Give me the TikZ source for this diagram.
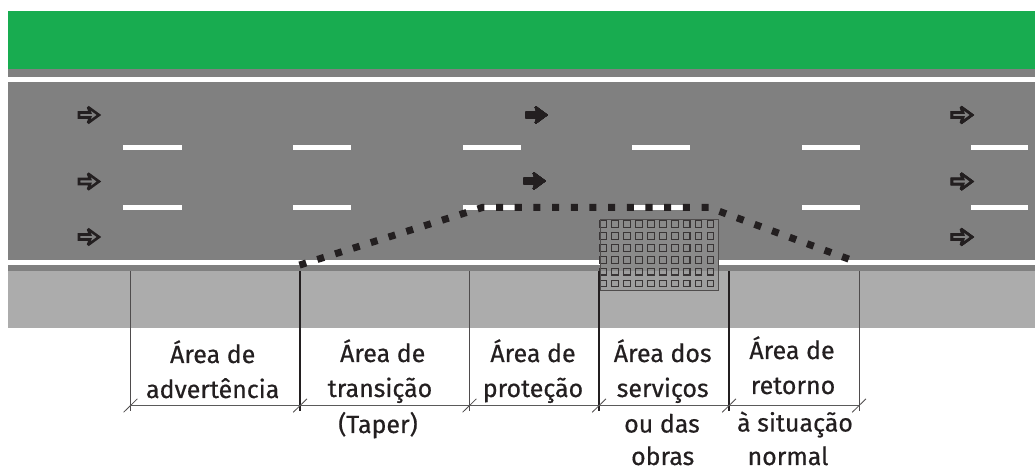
\documentclass[tikz,border=0pt]{standalone}
\usepackage{fontspec}
\setmainfont{Fira Sans}
\usetikzlibrary{calc,patterns,positioning}
\definecolor{verde}{RGB}{24,172,80}
\definecolor{asfalto}{RGB}{128,128,128}
\definecolor{acostamento}{RGB}{172,172,172}
\definecolor{traco}{RGB}{35,31,32}
\tikzset{
	faixa/.style={draw=white,line width=3.1pt},
	seta/.style={draw=traco,fill=asfalto,line width=1.5pt,line join=miter,miter limit=2},
	setacheia/.style={draw=traco,fill=traco,line width=1pt,miter limit=2},
	cone/.style={draw=traco,line width=4pt,dash pattern=on 4pt off 6.63pt},
	limite/.style={draw=traco,line width=0.75pt},
	limitefino/.style={draw=traco!80,line width=0.55pt},
	rotulo/.style={font=\fontsize{14.2}{14.2}\selectfont\addfontfeature{FakeBold=0.5},text=traco,inner sep=0pt,anchor=base},
}
\newcommand{\setaseta}[3]{\draw[#3] (#1,#2) ++(-9,-2.5) -- ++(11,0) -- ++(-2,-5.5) -- ++(11,8) -- ++(-11,8) -- ++(2,-5.5) -- ++(-11,0) -- cycle;}
\begin{document}
\begin{tikzpicture}[x=0.02cm,y=-0.02cm]
	\useasboundingbox (0,0) rectangle (1035,469);
	% pista
	\fill[verde] (8,11) rectangle (1035,69);
	\fill[asfalto] (8,69) rectangle (1035,271);
	\fill[acostamento] (8,271) rectangle (1035,328);
	\fill[white] (8,77.5) rectangle (1035,82.5);
	\fill[white] (8,260.5) rectangle (1035,265);
	% tracos
	\foreach \y in {147.3,207.4} {
		\foreach \xa/\xb in {123/182,293/351,463/521,632/690,802/860,971/1028}
			\draw[faixa] (\xa,\y) -- (\xb,\y);
	}
	% setas
	\foreach \y in {115,181.5,237}
		\setaseta{88}{\y}{seta}
	\foreach \y in {115,181.5,237}
		\setaseta{961}{\y}{seta}
	\setaseta{535.5}{115}{setacheia}
	\setaseta{533.5}{181}{setacheia}
	% area dos servicos
	\fill[asfalto!92!white] (600,219.5) rectangle (718,271.5);
	\fill[acostamento!92!black] (600,271.5) rectangle (718,290);
	\foreach \i in {0,...,9}
		\foreach \j in {0,...,5}
			\draw[traco!90,line width=0.65pt] (600+11.9*\i,220.7+11.9*\j) rectangle ++(6.7,6.7);
	\draw[traco!80,line width=0.55pt] (600,219.5) rectangle (718,290);
	% cones
	\coordinate (ini) at (299.5,265.1);
	\coordinate (a) at (482.7,207.4);
	\coordinate (b) at (708.7,207.4);
	\coordinate (fim) at (852.8,260.6);
	\draw[cone] (ini) -- (a) -- (b) -- (fim);
	% limites
	\coordinate (c0) at (130.4,271.5);
	\coordinate (c1) at (300,271.5);
	\coordinate (c2) at (469.4,271.5);
	\coordinate (c3) at (599,271.5);
	\coordinate (c4) at (729,271.5);
	\coordinate (c5) at (859,271.5);
	\foreach \c/\s in {c0/limitefino,c1/limite,c2/limitefino,c3/limite,c4/limite,c5/limitefino} {
		\draw[\s] (\c) -- ++(0,140);
		\draw[limitefino,line width=0.45pt] ($(\c)+(-6.8,140.8)$) -- ++(13.8,-13.5);
	}
	\draw[asfalto!70!black,line width=0.9pt] (c0) ++(0,134.2) -- ($(c5)+(0,134.2)$);
	% textos
	\node[rotulo] (adv1) at (212.7,363) {Área de};
	\node[rotulo] (adv2) at (212.7,398) {advertência};
	\node[rotulo] (tra1) at (382.7,362) {Área de};
	\node[rotulo] (tra2) at (380,397) {transição};
	\node[rotulo] (tra3) at (378,433) {(Taper)};
	\node[rotulo] (pro1) at (533,362) {Área de};
	\node[rotulo] (pro2) at (533,397) {proteção};
	\node[rotulo] (ser1) at (662.7,362) {Área dos};
	\node[rotulo] (ser2) at (662.7,397) {serviços};
	\node[rotulo] (ser3) at (662,432.5) {ou das};
	\node[rotulo] (ser4) at (662.7,465) {obras};
	\node[rotulo] (ret1) at (792,359) {Área de};
	\node[rotulo] (ret2) at (793,394) {retorno};
	\node[rotulo] (ret3) at (795,431.5) {à situação};
	\node[rotulo] (ret4) at (788,465) {normal};
\end{tikzpicture}
\end{document}
